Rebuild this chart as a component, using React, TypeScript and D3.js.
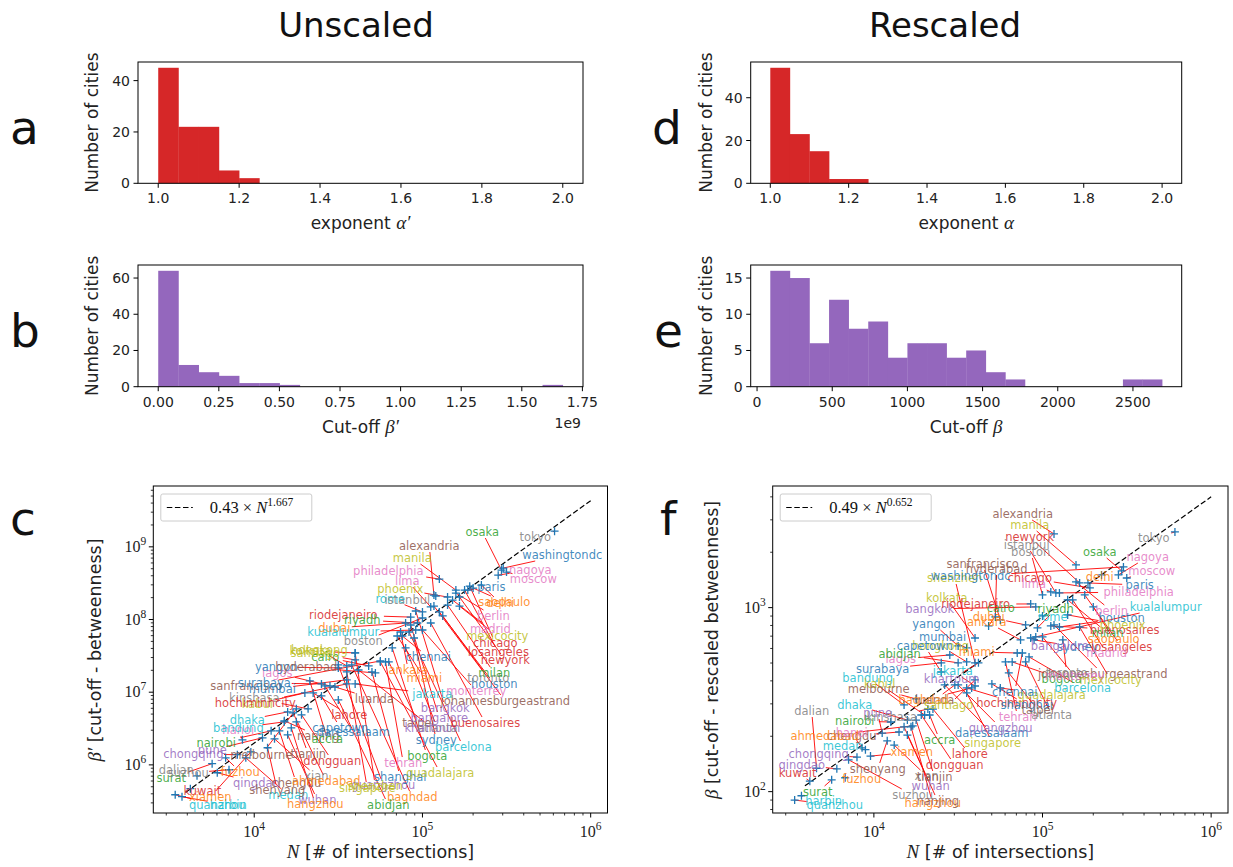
import React from "react";
import * as d3 from "d3";

const SANS = "'DejaVu Sans', 'Noto Sans', sans-serif";
const SERIF = "'Liberation Serif', 'DejaVu Serif', serif";

const tab10: Record<string, string> = {
  blue: "#1f77b4", orange: "#ff7f0e", green: "#2ca02c", red: "#d62728", purple: "#9467bd",
  brown: "#8c564b", pink: "#e377c2", gray: "#7f7f7f", olive: "#bcbd22", cyan: "#17becf",
};

// ---- histograms: counts in 20 equal-width bins over each value range ----
const alphaPrimeCounts = [45, 22, 22, 5, 2, 0, 0, 0, 0, 0, 0, 0, 0, 0, 0, 0, 0, 0, 0, 0];
const alphaCounts = [54, 23, 15, 2, 2, 0, 0, 0, 0, 0, 0, 0, 0, 0, 0, 0, 0, 0, 0, 0];
const betaPrimeCounts = [64, 12, 8, 6, 2, 2, 1, 0, 0, 0, 0, 0, 0, 0, 0, 0, 0, 0, 0, 1];
const betaCounts = [16, 15, 6, 12, 8, 9, 4, 6, 6, 4, 5, 2, 1, 0, 0, 0, 0, 0, 1, 1];
const alphaRange: [number, number] = [1.0, 2.0];
const betaPrimeRange: [number, number] = [0, 1.669e9];
const betaRange: [number, number] = [88, 2694];

const alphaTicks = [1.0, 1.2, 1.4, 1.6, 1.8, 2.0];
const betaPrimeTicks = [0, 0.25e9, 0.5e9, 0.75e9, 1.0e9, 1.25e9, 1.5e9, 1.75e9];
const betaTicks = [0, 500, 1000, 1500, 2000, 2500];

// ---- cities ----
const cityNames = [
  "quanzhou", "harbin", "kuwait", "surat", "dalian", "suzhou", "chongqing", "qingdao", "fuzhou", "xiamen",
  "medan", "shenyang", "wuhan", "hangzhou", "nanjing", "chengdu", "xian", "tianjin", "ahmedabad", "dongguan",
  "hanoi", "pune", "nairobi", "bandung", "dhaka", "kinshasa", "kabul", "hochiminhcity", "sanfrancisco", "surabaya",
  "mumbai", "lagos", "yangon", "hyderabad", "hongkong", "kolkata", "cairo", "luanda", "lahore", "capetown",
  "daressalaam", "accra", "melbourne", "guangzhou", "shenzhen", "singapore", "shanghai", "baghdad", "abidjan", "tehran",
  "bogota", "guadalajara", "sydney", "barcelona", "taipei", "atlanta", "khartoum", "bangalore", "bangkok", "jakarta",
  "johannesburgeastrand", "monterrey", "buenosaires", "houston", "toronto", "milan", "newyork", "losangeles", "chennai", "chicago",
  "mexicocity", "madrid", "berlin", "saopaulo", "delhi", "paris", "moscow", "nagoya", "washingtondc", "tokyo",
  "osaka", "alexandria", "manila", "philadelphia", "lima", "phoenix", "rome", "istanbul", "boston", "riodejaneiro",
  "riyadh", "dubai", "kualalumpur", "ankara", "miami", "santiago",
];

const cityColors = [
  "cyan", "cyan", "red", "green", "gray", "gray", "purple", "purple", "orange", "orange",
  "cyan", "brown", "purple", "orange", "brown", "brown", "gray", "brown", "orange", "red",
  "pink", "purple", "green", "cyan", "cyan", "gray", "olive", "red", "brown", "blue",
  "blue", "pink", "blue", "brown", "olive", "olive", "green", "brown", "red", "blue",
  "blue", "green", "brown", "purple", "olive", "olive", "blue", "orange", "green", "pink",
  "green", "olive", "blue", "cyan", "brown", "gray", "purple", "purple", "purple", "cyan",
  "brown", "pink", "red", "blue", "gray", "green", "red", "red", "blue", "red",
  "olive", "pink", "pink", "orange", "orange", "blue", "pink", "pink", "blue", "gray",
  "green", "brown", "olive", "pink", "pink", "olive", "cyan", "gray", "gray", "red",
  "green", "orange", "cyan", "orange", "orange", "olive",
];

// number of intersections N
const intersections = [
  3390, 3720, 4170, 5620, 4570, 7080, 7940, 6030, 6760, 9550,
  8910, 12000, 15800, 16600, 15100, 14100, 13200, 17800, 17000, 19100,
  8510, 11200, 12600, 15100, 15800, 20900, 20000, 35500, 56200, 25100,
  35500, 28200, 31600, 52500, 35500, 39800, 47900, 30200, 22400, 25100,
  26300, 21400, 17800, 31600, 39800, 35500, 50100, 38000, 31600, 60300,
  66100, 56200, 89100, 83200, 63100, 79400, 41700, 85100, 91200, 39800,
  117000, 100000, 112000, 126000, 132000, 141000, 166000, 178000, 75900, 191000,
  166000, 151000, 158000, 200000, 224000, 186000, 316000, 282000, 302000, 610000,
  295000, 117000, 158000, 126000, 112000, 141000, 100000, 120000, 100000, 85100,
  93300, 79400, 91200, 74100, 70800, 39800,
];

// cut-off beta' (betweenness)
const cutoffBetweenness = [
  3.88e5, 3.65e5, 4.7e5, 1.04e6, 7.08e5, 8.57e5, 1.38e6, 7.8e5, 1.25e6, 1.51e6,
  1.25e6, 1.72e6, 2.59e6, 3.24e6, 4.04e6, 2.94e6, 2.28e6, 3.91e6, 5.2e6, 4.88e6,
  2.21e6, 2.36e6, 2.94e6, 3.91e6, 5.36e6, 5.9e6, 9.77e6, 1.3e7, 2.69e7, 1.3e7,
  1.48e7, 1.22e7, 2.16e7, 1.84e7, 2.3e7, 3.47e7, 2.3e7, 1.18e7, 9.77e6, 8.89e6,
  1.22e7, 1.43e7, 5.9e6, 2.37e7, 3.47e7, 1.9e7, 1.9e7, 2.37e7, 7.84e6, 2.61e7,
  4.06e7, 2.61e7, 5.57e7, 6.73e7, 2.61e7, 4.06e7, 2.02e7, 8.41e7, 1.31e8, 1.3e7,
  1.53e8, 7.17e7, 8.95e7, 1.27e8, 1.12e8, 1.58e8, 2.04e8, 2.54e8, 5.93e7, 2.88e8,
  1.53e8, 1.85e8, 2.31e8, 2.71e8, 2.98e8, 2.54e8, 4.49e8, 4.08e8, 5.1e8, 1.64e9,
  4.79e8, 2.17e8, 2.54e8, 3.6e8, 1.49e8, 2.04e8, 1.27e8, 2.1e8, 1.05e8, 1.08e8,
  8.95e7, 8.95e7, 7.17e7, 6.73e7, 5.93e7, 2.78e7,
];

// cut-off beta (rescaled betweenness)
const cutoffRescaled = [
  90, 95, 114, 116, 134, 149, 154, 133, 119, 156,
  169, 189, 203, 225, 225, 211, 179, 245, 228, 261,
  173, 208, 239, 296, 245, 281, 261, 366, 858, 501,
  604, 553, 619, 890, 507, 684, 795, 380, 281, 447,
  380, 261, 319, 380, 501, 344, 385, 366, 501, 507,
  507, 366, 668, 540, 442, 507, 501, 684, 1009, 375,
  805, 693, 795, 785, 668, 1102, 1362, 1172, 567, 1279,
  785, 1102, 1380, 1009, 1506, 1362, 1449, 1506, 1664, 2578,
  1583, 2515, 1706, 1202, 1217, 913, 901, 1202, 1172, 1047,
  776, 805, 693, 668, 567, 405,
];

// power-law fits  beta = a * N^b
const fitUnscaled = { a: 0.43, b: 1.667, label: "1.667", coef: "0.43" };
const fitRescaled = { a: 0.49, b: 0.652, label: "0.652", coef: "0.49" };
const fitSpan: [number, number] = [3.9e3, 1e6];

// label placement (text centre, px from each frame's top-left corner)
const labelPosUnscaled: [number, number][] = [
  [64, 319], [75, 319], [49, 305], [18, 292], [23, 284], [35, 287], [40, 268], [103, 297], [87, 286], [57, 311],
  [135, 309], [124, 304], [164, 314], [162, 318], [165, 250], [143, 297], [163, 290], [155, 268], [173, 295], [179, 275],
  [85, 244], [59, 264], [63, 257], [85, 242], [94, 234], [101, 212], [104, 218], [102, 217], [93, 200], [111, 197],
  [119, 203], [124, 187], [123, 181], [153, 181], [166, 164], [157, 165], [172, 171], [221, 213], [196, 229], [187, 242],
  [200, 246], [174, 253], [108, 269], [230, 299], [222, 300], [214, 302], [247, 291], [259, 311], [235, 319], [250, 277],
  [274, 270], [287, 287], [283, 254], [310, 261], [265, 237], [284, 242], [279, 242], [286, 232], [292, 222], [279, 208],
  [352, 215], [323, 205], [332, 237], [341, 198], [335, 192], [341, 187], [352, 174], [345, 166], [275, 171], [342, 157],
  [344, 150], [337, 143], [340, 130], [351, 116], [347, 117], [338, 101], [380, 93], [377, 84], [409, 69], [382, 51],
  [329, 46], [276, 60], [259, 72], [235, 85], [254, 95], [247, 103], [237, 113], [254, 114], [210, 155], [190, 129],
  [209, 134], [181, 142], [190, 146], [255, 184], [271, 192], [162, 167],
];

const labelPosRescaled: [number, number][] = [
  [62, 319], [51, 315], [25, 287], [45, 306], [39, 225], [140, 309], [46, 268], [29, 279], [89, 293], [139, 266],
  [70, 260], [105, 283], [158, 300], [160, 317], [165, 315], [79, 250], [154, 290], [162, 291], [52, 250], [182, 279],
  [79, 247], [105, 227], [82, 235], [95, 192], [82, 219], [119, 231], [107, 198], [244, 217], [210, 78], [110, 183],
  [170, 151], [128, 173], [161, 138], [224, 83], [168, 160], [174, 112], [228, 122], [162, 214], [197, 268], [152, 160],
  [219, 247], [167, 254], [106, 203], [228, 242], [182, 92], [220, 257], [254, 219], [151, 214], [127, 168], [245, 231],
  [289, 193], [279, 209], [305, 161], [310, 202], [265, 224], [279, 229], [179, 193], [287, 160], [157, 123], [180, 185],
  [330, 188], [302, 190], [352, 144], [349, 132], [294, 187], [335, 147], [257, 51], [349, 161], [242, 206], [257, 92],
  [338, 194], [334, 167], [339, 125], [341, 153], [327, 91], [367, 99], [379, 85], [375, 71], [198, 90], [381, 52],
  [327, 66], [250, 28], [257, 39], [366, 106], [261, 98], [350, 139], [280, 131], [254, 59], [258, 66], [203, 118],
  [283, 123], [216, 131], [393, 121], [214, 136], [204, 166], [176, 219],
];

type Box = { x0: number; x1: number; y0: number; y1: number };

function Histogram(props: {
  box: Box; counts: number[]; range: [number, number]; color: string;
  xTicks: number[]; fmt: (v: number) => string; yTicks: number[];
  xLabel: React.ReactNode; yLabelX: number; xLabelY: number; offset?: string;
}) {
  const { box, counts, range, color } = props;
  const pad = (range[1] - range[0]) * 0.05;
  const x = d3.scaleLinear().domain([range[0] - pad, range[1] + pad]).range([box.x0, box.x1]);
  const ymax = (d3.max(counts) as number) * 1.05;
  const y = d3.scaleLinear().domain([0, ymax]).range([box.y1, box.y0]);
  const w = (range[1] - range[0]) / counts.length;
  return (
    <g>
      {counts.map((c, i) => {
        if (c <= 0) return null;
        const a = x(range[0] + i * w), b = x(range[0] + (i + 1) * w);
        return <rect key={i} x={a} y={y(c)} width={b - a + 0.3} height={y(0) - y(c)} fill={color} />;
      })}
      <rect x={box.x0} y={box.y0} width={box.x1 - box.x0} height={box.y1 - box.y0} fill="none" stroke="#000" strokeWidth={1} />
      {props.xTicks.map((t) => (
        <g key={t}>
          <line x1={x(t)} x2={x(t)} y1={box.y1} y2={box.y1 + 4.5} stroke="#000" />
          <text x={x(t)} y={box.y1 + 20} textAnchor="middle" fontSize={14} fill="#222">{props.fmt(t)}</text>
        </g>
      ))}
      {props.yTicks.map((t) => (
        <g key={t}>
          <line x1={box.x0 - 4.5} x2={box.x0} y1={y(t)} y2={y(t)} stroke="#000" />
          <text x={box.x0 - 8} y={y(t) + 5} textAnchor="end" fontSize={14} fill="#222">{t}</text>
        </g>
      ))}
      <text x={(box.x0 + box.x1) / 2} y={props.xLabelY} textAnchor="middle" fontSize={17} fill="#222">{props.xLabel}</text>
      <text transform={`translate(${props.yLabelX},${(box.y0 + box.y1) / 2}) rotate(-90)`} textAnchor="middle" fontSize={17} fill="#222">Number of cities</text>
      {props.offset && (
        <text x={box.x1 - 2} y={box.y1 + 41} textAnchor="end" fontSize={14} fill="#222">{props.offset}</text>
      )}
    </g>
  );
}

function logTicks(domain: [number, number]) {
  const lo = Math.floor(Math.log10(domain[0]));
  const hi = Math.ceil(Math.log10(domain[1]));
  const major: { v: number; e: number }[] = [];
  const minor: number[] = [];
  for (let e = lo; e <= hi; e++) {
    for (let m = 1; m < 10; m++) {
      const v = m * Math.pow(10, e);
      if (v < domain[0] || v > domain[1]) continue;
      if (m === 1) major.push({ v, e }); else minor.push(v);
    }
  }
  return { major, minor };
}

function Pow10({ x, y, e, anchor }: { x: number; y: number; e: number; anchor: "middle" | "end" }) {
  return (
    <text x={x} y={y} textAnchor={anchor} fontFamily={SERIF} fontSize={16} fill="#222">
      10<tspan dy={-7} fontSize={11.5}>{e}</tspan>
    </text>
  );
}

function Scatter(props: {
  id: string; box: Box; yDomain: [number, number]; yValues: number[];
  labelPos: [number, number][]; fit: { a: number; b: number; label: string; coef: string };
}) {
  const { box, yValues, labelPos, fit, id } = props;
  const xDomain: [number, number] = [Math.pow(10, 3.4), Math.pow(10, 6.1)];
  const x = d3.scaleLog().domain(xDomain).range([box.x0, box.x1]);
  const y = d3.scaleLog().domain(props.yDomain).range([box.y1, box.y0]);
  const xt = logTicks(xDomain);
  const yt = logTicks(props.yDomain);
  const fitLine = d3.line<number>().x((n) => x(n)).y((n) => y(fit.a * Math.pow(n, fit.b)))(fitSpan) as string;

  const leaders = cityNames.map((name, i) => {
    const px = x(intersections[i]);
    const py = y(yValues[i]);
    const lx = box.x0 + labelPos[i][0];
    const ly = box.y0 + labelPos[i][1];
    const dx = px - lx, dy = py - ly;
    const hw = name.length * 3.3 + 1, hh = 6;
    const t = Math.min(dx === 0 ? Infinity : hw / Math.abs(dx), dy === 0 ? Infinity : hh / Math.abs(dy));
    if (t >= 1) return null;
    return { x1: lx + dx * t, y1: ly + dy * t, x2: px, y2: py };
  });

  const lgX = box.x0 + 7.5, lgY = box.y0 + 8;
  return (
    <g>
      <defs>
        <clipPath id={id}>
          <rect x={box.x0} y={box.y0} width={box.x1 - box.x0} height={box.y1 - box.y0} />
        </clipPath>
      </defs>
      <g clipPath={`url(#${id})`}>
        <path d={fitLine} fill="none" stroke="#000" strokeWidth={1.2} strokeDasharray="5.5,2.6" />
        {leaders.map((l, i) => l && (
          <line key={i} x1={l.x1} y1={l.y1} x2={l.x2} y2={l.y2} stroke="#ff0000" strokeWidth={0.9} />
        ))}
        {cityNames.map((_, i) => {
          const px = x(intersections[i]), py = y(yValues[i]);
          return <path key={i} d={`M${px - 4},${py}H${px + 4}M${px},${py - 4}V${py + 4}`} stroke={tab10.blue} strokeWidth={1.3} fill="none" />;
        })}
        {cityNames.map((name, i) => (
          <text key={name} x={box.x0 + labelPos[i][0]} y={box.y0 + labelPos[i][1] + 4}
            textAnchor="middle" fontSize={11.5} fill={tab10[cityColors[i]]} fillOpacity={0.85}>{name}</text>
        ))}
      </g>
      <rect x={box.x0} y={box.y0} width={box.x1 - box.x0} height={box.y1 - box.y0} fill="none" stroke="#000" strokeWidth={1} />
      {xt.minor.map((v) => <line key={"xm" + v} x1={x(v)} x2={x(v)} y1={box.y1} y2={box.y1 + 2.5} stroke="#000" strokeWidth={0.8} />)}
      {xt.major.map(({ v, e }) => (
        <g key={"xM" + v}>
          <line x1={x(v)} x2={x(v)} y1={box.y1} y2={box.y1 + 4.5} stroke="#000" />
          <Pow10 x={x(v)} y={box.y1 + 24} e={e} anchor="middle" />
        </g>
      ))}
      {yt.minor.map((v) => <line key={"ym" + v} x1={box.x0 - 2.5} x2={box.x0} y1={y(v)} y2={y(v)} stroke="#000" strokeWidth={0.8} />)}
      {yt.major.map(({ v, e }) => (
        <g key={"yM" + v}>
          <line x1={box.x0 - 4.5} x2={box.x0} y1={y(v)} y2={y(v)} stroke="#000" />
          <Pow10 x={box.x0 - 7} y={y(v) + 5} e={e} anchor="end" />
        </g>
      ))}
      <rect x={lgX} y={lgY} width={151} height={27} rx={2} fill="#fff" fillOpacity={0.8} stroke="#cccccc" />
      <line x1={lgX + 6} x2={lgX + 32} y1={lgY + 13.5} y2={lgY + 13.5} stroke="#000" strokeWidth={1.2} strokeDasharray="5.5,2.6" />
      <text x={lgX + 49} y={lgY + 19} fontFamily={SERIF} fontSize={16.5} fill="#111">
        {fit.coef} × <tspan fontStyle="italic">N</tspan>
        <tspan dy={-7} fontSize={11.5}>{fit.label}</tspan>
      </text>
      <text x={(box.x0 + box.x1) / 2} y={box.y1 + 45} textAnchor="middle" fontSize={17.5} fill="#222">
        <tspan fontFamily={SERIF} fontStyle="italic" fontSize={19}>N</tspan> [# of intersections]
      </text>
    </g>
  );
}

export default function App() {
  const boxA: Box = { x0: 138, x1: 583, y0: 62, y1: 183.3 };
  const boxD: Box = { x0: 750.7, x1: 1181.7, y0: 62, y1: 183.3 };
  const boxB: Box = { x0: 138, x1: 583, y0: 265, y1: 386.7 };
  const boxE: Box = { x0: 750.7, x1: 1181.7, y0: 265, y1: 386.7 };
  const boxC: Box = { x0: 153.3, x1: 607.5, y0: 486, y1: 813 };
  const boxF: Box = { x0: 772.7, x1: 1228, y0: 486, y1: 813 };
  const math = (s: string) => <tspan fontFamily={SERIF} fontStyle="italic" fontSize={19}>{s}</tspan>;

  return (
    <svg width={1233} height={867} style={{ position: "absolute", left: 0, top: 0, background: "#fff" }}
      fontFamily={SANS}>
      <rect width={1233} height={867} fill="#fff" />
      <text x={356} y={37} textAnchor="middle" fontSize={34} fill="#111">Unscaled</text>
      <text x={945} y={37} textAnchor="middle" fontSize={34} fill="#111">Rescaled</text>

      {[["a", 10, 144], ["b", 10, 347], ["c", 10, 535], ["d", 652, 144], ["e", 654, 347], ["f", 660, 535]].map(([t, lx, ly]) => (
        <text key={t as string} x={lx as number} y={ly as number} fontSize={47} fill="#111">{t}</text>
      ))}

      <Histogram box={boxA} counts={alphaPrimeCounts} range={alphaRange} color={tab10.red}
        xTicks={alphaTicks} fmt={(v) => v.toFixed(1)} yTicks={[0, 20, 40]}
        xLabel={<>exponent {math("α′")}</>} yLabelX={98} xLabelY={229} />
      <Histogram box={boxD} counts={alphaCounts} range={alphaRange} color={tab10.red}
        xTicks={alphaTicks} fmt={(v) => v.toFixed(1)} yTicks={[0, 20, 40]}
        xLabel={<>exponent {math("α")}</>} yLabelX={712} xLabelY={229} />
      <Histogram box={boxB} counts={betaPrimeCounts} range={betaPrimeRange} color={tab10.purple}
        xTicks={betaPrimeTicks} fmt={(v) => (v / 1e9).toFixed(2)} yTicks={[0, 20, 40, 60]}
        xLabel={<>Cut-off {math("β′")}</>} yLabelX={98} xLabelY={433} offset="1e9" />
      <Histogram box={boxE} counts={betaCounts} range={betaRange} color={tab10.purple}
        xTicks={betaTicks} fmt={(v) => String(v)} yTicks={[0, 5, 10, 15]}
        xLabel={<>Cut-off {math("β")}</>} yLabelX={712} xLabelY={433} />

      <Scatter id="clipC" box={boxC} yDomain={[Math.pow(10, 5.338), Math.pow(10, 9.837)]}
        yValues={cutoffBetweenness} labelPos={labelPosUnscaled} fit={fitUnscaled} />
      <text transform="translate(101,650) rotate(-90)" textAnchor="middle" fontSize={17.5} fill="#222">
        {math("β′")} [cut-off - betweenness]
      </text>

      <Scatter id="clipF" box={boxF} yDomain={[Math.pow(10, 1.884), Math.pow(10, 3.661)]}
        yValues={cutoffRescaled} labelPos={labelPosRescaled} fit={fitRescaled} />
      <text transform="translate(718,650) rotate(-90)" textAnchor="middle" fontSize={17.5} fill="#222">
        {math("β")} [cut-off - rescaled betweenness]
      </text>
    </svg>
  );
}
